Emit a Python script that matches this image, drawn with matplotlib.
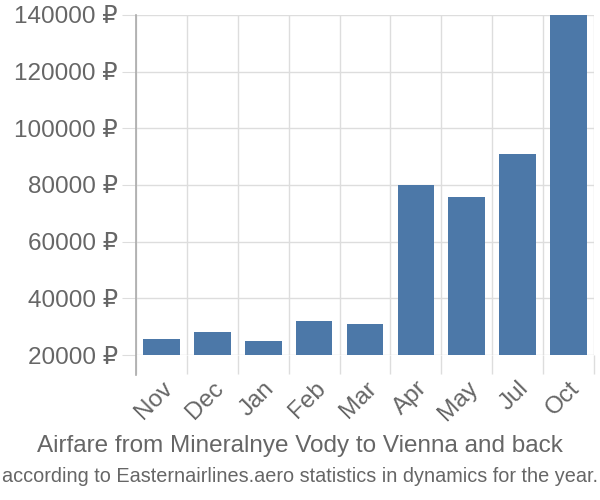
import matplotlib
matplotlib.use("Agg")
import matplotlib.pyplot as plt
from matplotlib.lines import Line2D

months = ["Nov", "Dec", "Jan", "Feb", "Mar", "Apr", "May", "Jul", "Oct"]
prices = [25600, 28100, 24900, 32000, 30900, 80000, 75900, 91100, 140000]
yticks = [20000, 40000, 60000, 80000, 100000, 120000, 140000]
ytick_labels = [f"{v} ₽" for v in yticks]

plt.rcParams['font.family'] = ['Liberation Sans', 'DejaVu Sans']
text_color = "#666666"
grid_color = "#dddddd"

fig = plt.figure(figsize=(6, 5), dpi=100)
ax = fig.add_axes([136/600, 1-355/500, (594-136)/600, (355-15)/500])

x = list(range(len(months)))
base = 20000
ax.bar(x, [p - base for p in prices], bottom=base, width=0.72, color="#4c78a8", zorder=3)

ax.set_xlim(-0.5, len(months) - 0.5)
ax.set_ylim(20000, 140000)
ax.set_yticks(yticks)
ax.set_yticklabels(ytick_labels, fontsize=17.5, color=text_color)
ax.set_xticks(x)
ax.set_xticklabels(months, rotation=45, ha="right", rotation_mode="anchor",
                   fontsize=17.5, color=text_color)
ax.tick_params(axis="x", length=0, pad=16)
ax.tick_params(axis="y", length=10, color=grid_color, pad=3)
ax.set_xticks([i - 0.5 for i in range(len(months) + 1)], minor=True)
ax.tick_params(axis="x", which="minor", length=14, color=grid_color, width=1)

ax.grid(True, axis="y", color=grid_color, linewidth=1, zorder=0)
ax.grid(True, axis="x", which="minor", color=grid_color, linewidth=1, zorder=0)
for s in ["top", "right", "bottom", "left"]:
    ax.spines[s].set_visible(False)
ax.add_line(Line2D([0, 0], [-20/340, 1], transform=ax.transAxes, color="#aaaaaa",
                   linewidth=1.2, clip_on=False, zorder=4))

fig.text(0.5, 1 - 446/500, "Airfare from Mineralnye Vody to Vienna and back",
         ha="center", va="center", fontsize=17.5, color=text_color)
fig.text(0.5, 1 - 477/500, "according to Easternairlines.aero statistics in dynamics for the year.",
         ha="center", va="center", fontsize=14.3, color=text_color)

fig.savefig("out.png", dpi=100)
